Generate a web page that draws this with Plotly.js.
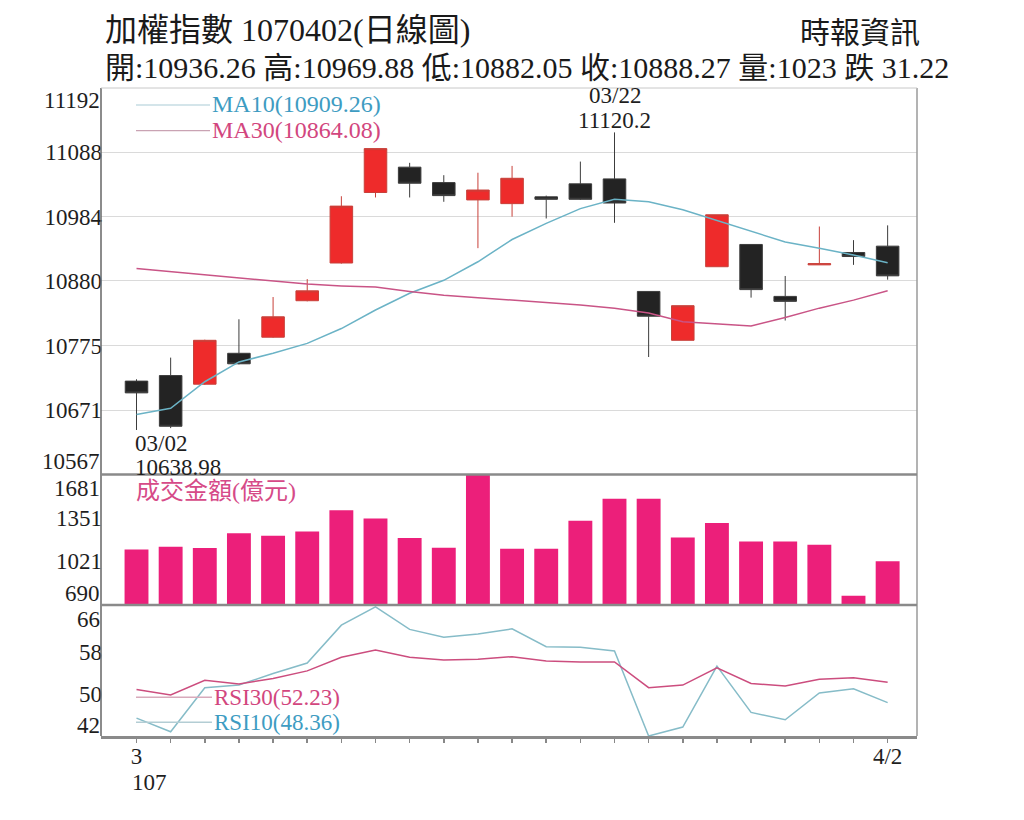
<!DOCTYPE html>
<html>
<head>
<meta charset="utf-8">
<script src="https://cdn.plot.ly/plotly-3.0.1.min.js"></script>
<style>
  body { margin: 0; background: #fff; }
  #chart { width: 1024px; height: 820px; }
</style>
</head>
<body>
<div id="chart"></div>
<script>
// trading days, 3/2 .. 4/2 (3/31 was a Saturday make-up session)
var dates = ['3/2','3/5','3/6','3/7','3/8','3/9','3/12','3/13','3/14','3/15','3/16','3/19',
             '3/20','3/21','3/22','3/23','3/26','3/27','3/28','3/29','3/30','3/31','4/2'];

var open  = [10718, 10727, 10713, 10763, 10789, 10848, 10909, 11023, 11064, 11039, 11011, 11005,
             11016, 11037, 11045, 10863, 10784, 10903, 10939, 10855, 10906, 10926, 10936.26];
var high  = [10721, 10756, 10785, 10818, 10854, 10883, 11017, 11094, 11071, 11051, 11055, 11066,
             11018, 11073, 11120.2, 10863, 10840, 10987, 10939, 10888, 10968, 10946, 10969.88];
var low   = [10638.98, 10642, 10712, 10745, 10788, 10847, 10908, 11015, 11015, 11008, 10933, 10984,
             10981, 11011, 10974, 10757, 10784, 10903, 10853, 10816, 10906, 10906, 10882.05];
var close = [10699, 10645, 10784, 10746, 10822, 10864, 11001, 11094, 11038, 11018, 11027, 11046,
             11012, 11012, 11006, 10823, 10840, 10987, 10866, 10847, 10908, 10919.49, 10888.27];

var ma10 = [10664, 10674, 10717, 10749, 10763, 10779, 10803, 10833, 10860, 10881, 10911, 10947,
            10973, 10997, 11012, 11008, 10995, 10978, 10960, 10943, 10933, 10922, 10909.26];
var ma30 = [10900, 10895, 10891, 10885, 10880, 10875, 10872, 10870, 10863, 10857, 10853, 10849,
            10846, 10841, 10836, 10828, 10814, 10810, 10807, 10821, 10836, 10849, 10864.08];

// 成交金額 (億元)
var volume = [1112, 1132, 1122, 1234, 1216, 1249, 1409, 1346, 1198, 1124, 1681, 1117,
              1117, 1330, 1496, 1496, 1203, 1313, 1173, 1173, 1147, 761, 1023];

var rsi10 = [45.4, 42.8, 51.2, 51.7, 53.9, 55.9, 63.1, 66.6, 62.3, 60.8, 61.4, 62.4,
             59.0, 58.9, 58.2, 42.0, 43.7, 55.3, 46.5, 45.1, 50.2, 51.0, 48.36];
var rsi30 = [50.85, 49.8, 52.6, 51.9, 52.95, 54.4, 57.0, 58.35, 57.0, 56.45, 56.6, 57.1,
             56.3, 56.1, 56.1, 51.2, 51.7, 55.0, 52.0, 51.5, 52.8, 53.1, 52.23];

var priceTicks = [11192, 11088, 10984, 10880, 10775, 10671, 10567];
var volTicks = [1681, 1351, 1021, 690];
var rsiTicks = [66, 58, 50, 42];

var FONT = 'Liberation Serif, Noto Sans CJK TC, serif';
var blueLine = '#6BB3C6', pinkLine = '#C95486';
var blueText = '#3E9CC2', pinkText = '#D2467E';

var data = [
  {
    type: 'candlestick', x: dates, open: open, high: high, low: low, close: close,
    xaxis: 'x', yaxis: 'y',
    increasing: {line: {color: '#C8403A', width: 1}, fillcolor: '#EE2B2B'},
    decreasing: {line: {color: '#3c3c3c', width: 1}, fillcolor: '#232323'},
    whiskerwidth: 0, hoverinfo: 'skip'
  },
  {type: 'scatter', mode: 'lines', x: dates, y: ma10, xaxis: 'x', yaxis: 'y',
   line: {color: blueLine, width: 1.5}},
  {type: 'scatter', mode: 'lines', x: dates, y: ma30, xaxis: 'x', yaxis: 'y',
   line: {color: pinkLine, width: 1.5}},
  {type: 'bar', x: dates, y: volume, xaxis: 'x', yaxis: 'y2',
   marker: {color: '#EC1F7A'}},
  {type: 'scatter', mode: 'lines', x: dates, y: rsi10, xaxis: 'x', yaxis: 'y3',
   line: {color: '#86BCC8', width: 1.5}},
  {type: 'scatter', mode: 'lines', x: dates, y: rsi30, xaxis: 'x', yaxis: 'y3',
   line: {color: '#CC4D7E', width: 1.5}}
];

// inner tick labels on the axes, the two edge ones pushed inside the panel
function inner(arr) { return arr.slice(1, arr.length - 1); }
function edgeLabels(arr, yref, top, bottom) {
  return [
    {xref: 'paper', x: 0, xanchor: 'right', xshift: 1, yref: yref, y: arr[0], yshift: -top,
     text: String(arr[0]), font: {size: 23}, showarrow: false},
    {xref: 'paper', x: 0, xanchor: 'right', xshift: 1, yref: yref, y: arr[arr.length - 1], yshift: bottom,
     text: String(arr[arr.length - 1]), font: {size: 23}, showarrow: false}
  ];
}

var xTickText = dates.map(function (d, i) {
  if (i === 0) return '3';
  if (i === dates.length - 1) return d;
  return '';
});

var commonY = {
  anchor: 'x', tickmode: 'array', zeroline: false, showline: false, ticks: '',
  fixedrange: true, tickfont: {size: 23, color: '#1e1e1e'}, ticklabelstandoff: -2
};

var annotations = [
  {xref: 'paper', yref: 'paper', x: 0.0025, y: 1.0895, xanchor: 'left', yanchor: 'middle',
   text: '加權指數 1070402(日線圖)', font: {size: 32, color: '#1a1a1a'}, showarrow: false},
  {xref: 'paper', yref: 'paper', x: 0.0025, y: 1.0324, xanchor: 'left', yanchor: 'middle',
   text: '開:10936.26 高:10969.88 低:10882.05 收:10888.27 量:1023 跌 31.22',
   font: {size: 30, color: '#1a1a1a'}, showarrow: false},
  {xref: 'paper', yref: 'paper', x: 1.006, y: 1.0849, xanchor: 'right', yanchor: 'middle',
   text: '時報資訊', font: {size: 30, color: '#1a1a1a'}, showarrow: false},

  // high / low marks
  {x: '3/22', y: 11120.2, yshift: 37, yanchor: 'middle', text: '03/22', font: {size: 23}, showarrow: false},
  {x: '3/22', y: 11120.2, yshift: 12, yanchor: 'middle', text: '11120.2', font: {size: 23}, showarrow: false},
  {x: '3/2', y: 10638.98, yshift: -14, xshift: -4, xanchor: 'left', yanchor: 'middle',
   text: '03/02', font: {size: 23}, showarrow: false},
  {x: '3/2', y: 10638.98, yshift: -38, xshift: -4, xanchor: 'left', yanchor: 'middle',
   text: '10638.98', font: {size: 23}, showarrow: false},

  // legends
  {xref: 'paper', yref: 'y domain', x: 0.1336, y: 0.9586, xanchor: 'left', yanchor: 'middle',
   text: 'MA10(10909.26)', font: {color: blueText}, showarrow: false},
  {xref: 'paper', yref: 'y domain', x: 0.1336, y: 0.891, xanchor: 'left', yanchor: 'middle',
   text: 'MA30(10864.08)', font: {color: pinkText}, showarrow: false},
  {xref: 'paper', yref: 'y2 domain', x: 0.041, y: 0.877, xanchor: 'left', yanchor: 'middle',
   text: '成交金額(億元)', font: {color: '#D64A88', size: 24}, showarrow: false},
  {xref: 'paper', yref: 'y3 domain', x: 0.136, y: 0.296, xanchor: 'left', yanchor: 'middle',
   text: 'RSI30(52.23)', font: {color: pinkText, size: 23}, showarrow: false},
  {xref: 'paper', yref: 'y3 domain', x: 0.136, y: 0.105, xanchor: 'left', yanchor: 'middle',
   text: 'RSI10(48.36)', font: {color: blueText, size: 23}, showarrow: false},

  // year under the month label
  {x: '3/2', yref: 'paper', y: -0.0710, xanchor: 'left', xshift: -7, yanchor: 'middle',
   text: '107', font: {size: 23}, showarrow: false}
].concat(edgeLabels(priceTicks, 'y', 12, 13),
         edgeLabels(volTicks, 'y2', 14, 11),
         edgeLabels(rsiTicks, 'y3', 10, 11));

function hline(yref, y, color, width, x0, x1) {
  return {type: 'line', xref: 'paper', yref: yref, x0: x0 === undefined ? 0 : x0,
          x1: x1 === undefined ? 1 : x1, y0: y, y1: y, line: {color: color, width: width}};
}

var shapes = [
  {type: 'line', xref: 'paper', yref: 'paper', x0: 0, x1: 0, y0: 0, y1: 1, line: {color: '#666', width: 1.5}},
  {type: 'line', xref: 'paper', yref: 'paper', x0: 1, x1: 1, y0: 0, y1: 1, line: {color: '#9a9a9a', width: 1.5}},
  hline('paper', 1, '#c8c8c8', 1),
  hline('y domain', 0, '#8a8a8a', 2.5),
  hline('y2 domain', 0, '#8a8a8a', 2.5),
  // legend samples
  hline('y domain', 0.956, '#A9CBD5', 1.2, 0.0429, 0.1336),
  hline('y domain', 0.8895, '#C9A3B3', 1.2, 0.0429, 0.1336),
  hline('y3 domain', 0.296, '#D8AABB', 1.5, 0.0429, 0.136),
  hline('y3 domain', 0.105, '#B3CDD4', 1.5, 0.0429, 0.136)
];

var layout = {
  width: 1024, height: 820,
  margin: {l: 101, r: 107, t: 88, b: 84, pad: 0},
  paper_bgcolor: '#fff', plot_bgcolor: '#fff',
  showlegend: false,
  font: {family: FONT, size: 24, color: '#1e1e1e'},
  boxgap: 0.34, boxgroupgap: 0,
  bargap: 0.3,
  xaxis: {
    type: 'category', range: [-1.04, 22.86], anchor: 'y3',
    tickmode: 'array', tickvals: dates, ticktext: xTickText,
    ticks: 'outside', ticklen: 4, tickcolor: '#888', tickwidth: 1.5,
    ticklabelstandoff: -6,
    showline: true, linecolor: '#8a8a8a', linewidth: 2.5,
    showgrid: false, zeroline: false, fixedrange: true,
    rangeslider: {visible: false},
    tickfont: {size: 23, color: '#1e1e1e'}
  },
  yaxis: Object.assign({}, commonY, {
    domain: [0.40355, 1], range: [10567, 11192],
    tickvals: inner(priceTicks), ticktext: inner(priceTicks).map(String),
    showgrid: true, gridcolor: '#DADADA', gridwidth: 1
  }),
  yaxis2: Object.assign({}, commonY, {
    domain: [0.20216, 0.40355], range: [690, 1681],
    tickvals: inner(volTicks), ticktext: inner(volTicks).map(String),
    showgrid: false
  }),
  yaxis3: Object.assign({}, commonY, {
    domain: [0, 0.20216], range: [42, 66.94],
    tickvals: inner(rsiTicks), ticktext: inner(rsiTicks).map(String),
    showgrid: false
  }),
  shapes: shapes,
  annotations: annotations
};

Plotly.newPlot('chart', data, layout, {staticPlot: true});
</script>
</body>
</html>
